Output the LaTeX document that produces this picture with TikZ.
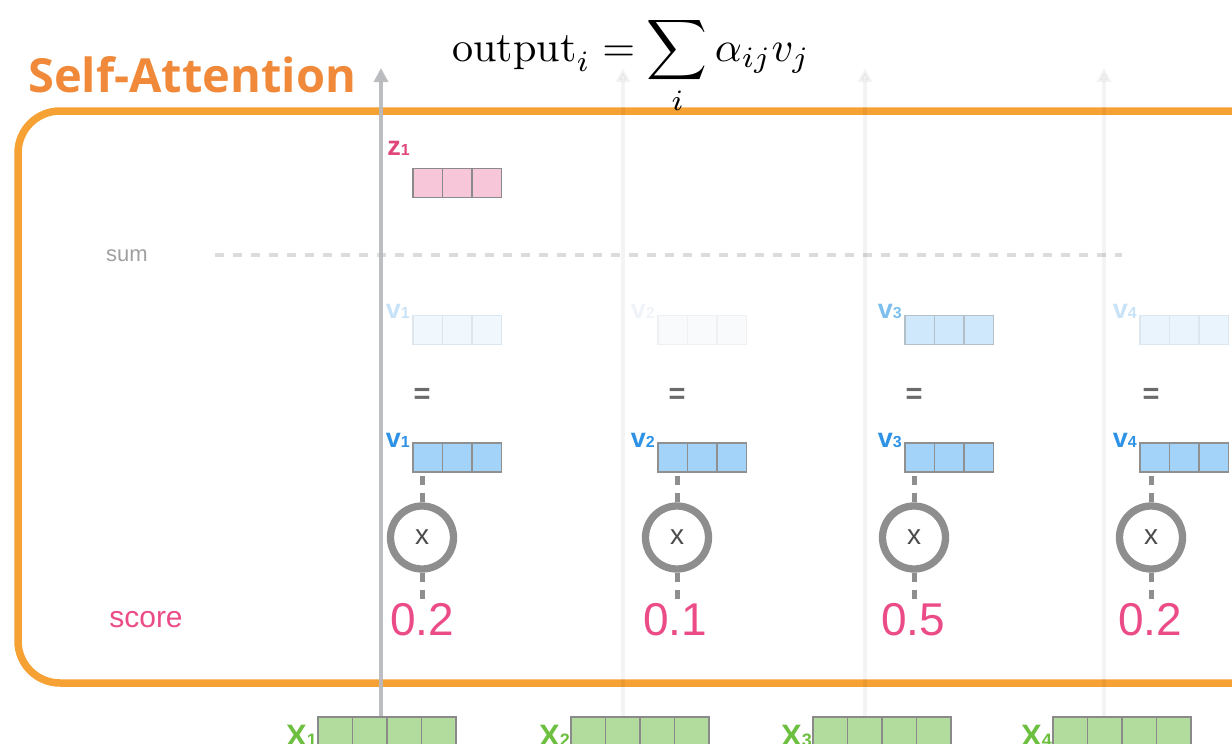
\documentclass[tikz,border=0pt]{standalone}
\usepackage{fontspec}
\usepackage{graphicx}
\newfontfamily\lsans{Liberation Sans}
\newfontfamily\osans{Open Sans}
\usetikzlibrary{arrows.meta}
\definecolor{frameor}{HTML}{F5A133}
\definecolor{titleor}{HTML}{F08A3A}
\definecolor{zpink}{HTML}{E0457B}
\definecolor{zfill}{HTML}{F7C6D9}
\definecolor{cellgray}{HTML}{8A8A8A}
\definecolor{vblue}{HTML}{2E92E6}
\definecolor{vfill}{HTML}{A3D3F8}
\definecolor{xgreen}{HTML}{6CBF3F}
\definecolor{xfill}{HTML}{B1DC9D}
\definecolor{scorepink}{HTML}{EB4C87}
\definecolor{sumgray}{HTML}{A0A0A0}
\definecolor{eqgray}{HTML}{6A6A6A}
\definecolor{multgray}{HTML}{8E8E8E}
\definecolor{dashgray}{HTML}{DCDCDC}
\definecolor{arrgray}{HTML}{B9BABE}
\tikzset{
  cell/.style={rectangle, inner sep=0pt, minimum width=29.5pt, minimum height=29pt, line width=1.1pt},
  zcell/.style={cell, fill=zfill, draw=cellgray},
  vbcell/.style={cell, fill=vfill, draw=cellgray!95},
  xcell/.style={rectangle, inner sep=0pt, minimum width=34.5pt, minimum height=34pt, line width=1.1pt, fill=xfill, draw=cellgray},
  vlab/.style={inner sep=0pt, anchor=base east, font=\lsans\bfseries\fontsize{27}{27}\selectfont},
  eqsign/.style={inner sep=0pt, text=eqgray, font=\lsans\bfseries\fontsize{29}{29}\selectfont},
  mult/.style={circle, draw=multgray, line width=7.3pt, minimum size=63pt, inner sep=0pt, text=black!70, font=\lsans\fontsize{28}{28}\selectfont},
  scorenum/.style={inner sep=0pt, text=scorepink, font=\lsans\fontsize{46}{46}\selectfont},
  dconn/.style={draw=multgray, line width=5pt, dash pattern=on 9pt off 8pt},
  uparrow/.style={line width=3.5pt, -{Triangle[width=14pt,length=14pt]}},
}
\newcommand{\sublab}[2]{#1{\fontsize{16}{16}\selectfont #2}}
\begin{document}
\begin{tikzpicture}[x=1pt,y=-1pt]
\useasboundingbox (0,0) rectangle (1232,744);
\clip (0,0) rectangle (1232,744);
% frame
\draw[frameor, line width=7.5pt, rounded corners=42pt] (18,111) rectangle (1290,683);
% title
\node[inner sep=0pt, anchor=base west, text=titleor, font=\osans\bfseries\fontsize{47}{47}\selectfont] (title) at (28,92) {Self-Attention};
% formula
\node[inner sep=0pt, anchor=base] (formula) at (631,61) {\scalebox{4.22}{$\displaystyle \mathrm{output}_i = \sum_i \alpha_{ij} v_j$}};
% sum line
\node[inner sep=0pt, anchor=base west, text=sumgray, font=\lsans\fontsize{22}{22}\selectfont] (sumlab) at (106,261) {sum};
\coordinate (sumA) at (215,255);
\coordinate (sumB) at (1122,255);
\draw[dashgray, line width=4pt, dash pattern=on 9pt off 9pt] (sumA) -- (sumB);
% score label
\node[inner sep=0pt, text=scorepink, font=\lsans\fontsize{30}{30}\selectfont] (scorelab) at (146,620) {score};
% z1
\foreach \k in {0,1,2} \node[zcell] (z\k) at (413+14.75+\k*29.5,183) {};
\node[vlab, text=zpink] (zlab) at (410,155) {\sublab{z}{1}};
% columns
\foreach \i/\L/\c/\ac/\lc/\lb in {1/413/422/F0F8FE/C8E3F8/DCE6EE, 2/658/677/F9FAFB/F0F4F8/EEF0F2, 3/905/914/CFE8FB/7CBFEE/B4C0C8, 4/1140/1151/EAF4FC/C8E3F8/DCE6EE}{
  \definecolor{afill}{HTML}{\ac}
  \definecolor{alab}{HTML}{\lc}
  \definecolor{abord}{HTML}{\lb}
  \foreach \k in {0,1,2} {
    \node[cell, fill=afill, draw=abord] (a\i c\k) at (\L+14.75+\k*29.5,330) {};
    \node[vbcell] (b\i c\k) at (\L+14.75+\k*29.5,457.5) {};
  }
  \node[vlab, text=alab] (alab\i) at (\L-3,318) {\sublab{v}{\i}};
  \node[vlab, text=vblue] (blab\i) at (\L-3,447) {\sublab{v}{\i}};
  \node[eqsign] (eq\i) at (\c,396) {=};
  \node[mult] (m\i) at (\c,537.5) {x};
  \draw[dconn] (m\i.north) -- (m\i.north |- b\i c0.south);
}
\node[scorenum] (s1) at (422,620) {0.2};
\node[scorenum] (s2) at (675,620) {0.1};
\node[scorenum] (s3) at (913,620) {0.5};
\node[scorenum] (s4) at (1150,620) {0.2};
\foreach \i in {1,2,3,4} \draw[dconn] (m\i.south) -- (m\i.south |- s\i.north);
% x inputs
\foreach \i/\L in {1/318, 2/571, 3/813, 4/1053}{
  \foreach \k in {0,1,2,3} \node[xcell] (x\i c\k) at (\L+17.25+\k*34.5,734) {};
  \node[inner sep=0pt, anchor=base east, text=xgreen, font=\lsans\bfseries\fontsize{31}{31}\selectfont] (xlab\i) at (\L-1,746) {X{\fontsize{18}{18}\selectfont\i}};
}
% arrows
\coordinate (t1) at (381,68);
\coordinate (t2) at (623,68);
\coordinate (t3) at (865,68);
\coordinate (t4) at (1104,68);
\draw[uparrow, draw=arrgray, fill=arrgray, opacity=0.95] (t1 |- x1c0.north) -- (t1);
\foreach \i in {2,3,4} \draw[uparrow, draw=black, fill=black, opacity=0.045] (t\i |- x\i c0.north) -- (t\i);
\end{tikzpicture}
\end{document}
